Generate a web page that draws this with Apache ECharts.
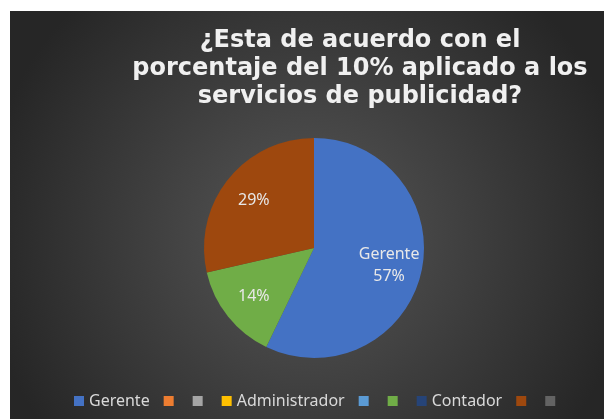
<!DOCTYPE html>
<html>
<head>
<meta charset="utf-8">
<script src="https://cdn.jsdelivr.net/npm/echarts@6/dist/echarts.min.js"></script>
<style>
  html, body { margin: 0; padding: 0; background: #ffffff; }
  #chart { position: absolute; left: 10px; top: 11px; width: 594px; height: 408px; }
</style>
</head>
<body>
<div id="chart"></div>
<script>
// datos
const titleText = '¿Esta de acuerdo con el\nporcentaje del 10% aplicado a los\nservicios de publicidad?';
const categories = ['Gerente', '', '', 'Administrador', '', '', 'Contador', '', ''];
const values = [4, 0, 0, 0, 0, 1, 0, 2, 0];
const palette = ['#4472c4', '#ed7d31', '#a5a5a5', '#ffc000', '#5b9bd5', '#70ad47', '#264478', '#9e480e', '#636363'];

// legend needs unique names, blank categories get a hidden key
const keys = categories.map((c, i) => (c !== '' ? c : '#' + i));
const pieData = keys.map((k, i) => ({ name: k, value: values[i] }));

const chart = echarts.init(document.getElementById('chart'));

const option = {
  backgroundColor: {
    type: 'radial',
    x: 0.5,
    y: 0.55,
    r: 0.8,
    colorStops: [
      { offset: 0, color: '#575757' },
      { offset: 1, color: '#262626' },
    ],
  },
  color: palette,
  title: {
    text: titleText,
    left: 350,
    top: 16,
    padding: 0,
    textAlign: 'center',
    textStyle: {
      fontFamily: 'DejaVu Sans',
      fontWeight: 'bold',
      fontSize: 24,
      lineHeight: 28,
      color: '#f0f0f0',
    },
  },
  legend: {
    data: keys,
    left: 64,
    top: 382,
    padding: 0,
    itemWidth: 10,
    itemHeight: 10,
    itemGap: 14,
    icon: 'rect',
    selectedMode: false,
    // zero width space keeps the gap after the blank entries
    formatter: (name) => (name.charAt(0) === '#' ? '\u200b' : name),
    textStyle: {
      fontFamily: 'Noto Sans',
      fontSize: 16,
      color: '#d9d9d9',
    },
  },
  series: [
    {
      type: 'pie',
      center: [304, 237],
      radius: [0, 110],
      startAngle: 90,
      clockwise: true,
      silent: true,
      label: { show: false },
      labelLine: { show: false },
      data: pieData,
    },
    {
      // capa transparente solo para las etiquetas
      type: 'pie',
      center: [304, 237],
      radius: [38, 110],
      startAngle: 90,
      clockwise: true,
      silent: true,
      itemStyle: { color: 'rgba(0,0,0,0)' },
      label: {
        show: true,
        position: 'inside',
        fontFamily: 'Noto Sans',
        fontSize: 16,
        lineHeight: 22,
        color: '#e8e8e8',
        formatter: (p) => {
          if (!p.value) return '';
          const cat = categories[p.dataIndex];
          return (cat ? cat + '\n' : '') + Math.round(p.percent) + '%';
        },
      },
      labelLine: { show: false },
      data: pieData,
    },
  ],
};

chart.setOption(option);
</script>
</body>
</html>
